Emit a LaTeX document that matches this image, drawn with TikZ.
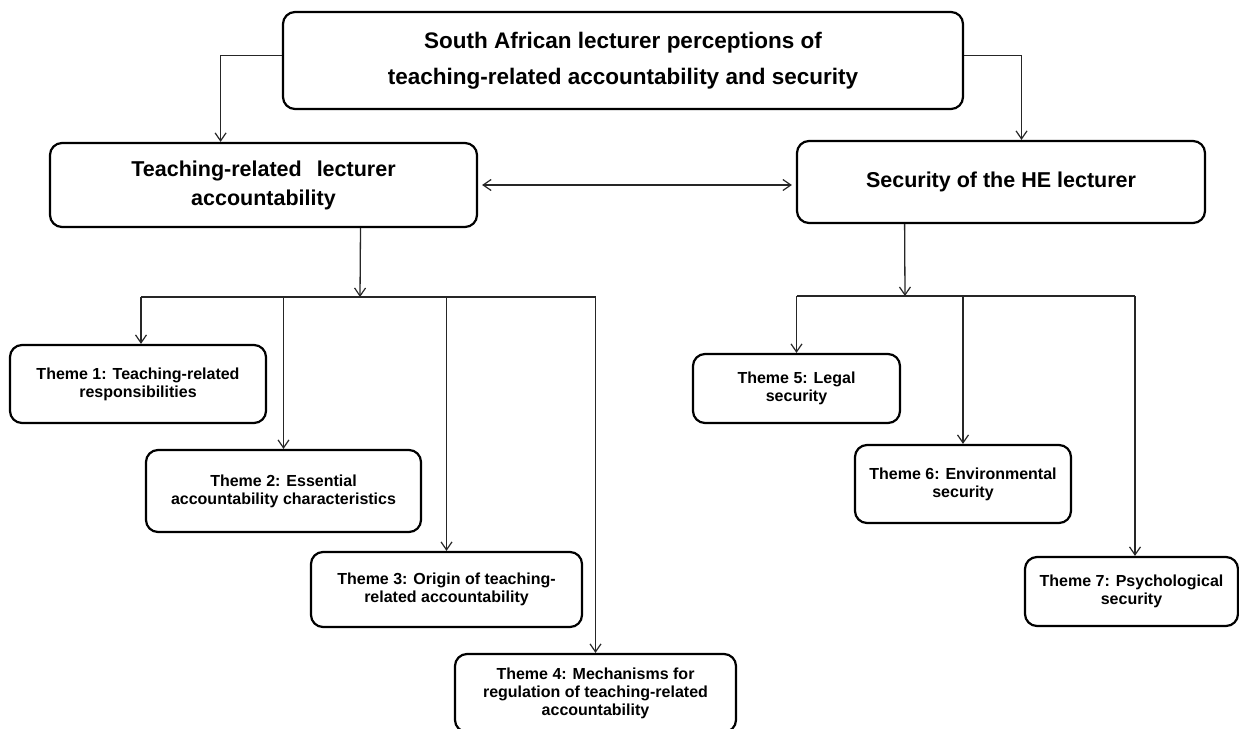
\documentclass[tikz,border=0pt]{standalone}
\usepackage{fontspec}
\setmainfont{Liberation Sans}
\usetikzlibrary{arrows.meta,calc}
\begin{document}
\begin{tikzpicture}[x=1pt,y=1pt,
  box/.style={draw=black, line width=2.2pt, rounded corners=12pt, align=center, inner sep=0pt, fill=white},
  titlebox/.style={box, font=\bfseries\fontsize{22.5}{36}\selectfont},
  mainbox/.style={box, font=\bfseries\fontsize{21.5}{29}\selectfont},
  themebox/.style={box, font=\bfseries\fontsize{16}{18}\selectfont},
  conn/.style={line width=1.3pt, draw=black!85},
  arr/.style={conn, -{Straight Barb[length=8pt,width=11pt,line width=1.2pt]}},
  darr/.style={conn, {Straight Barb[length=8pt,width=11pt,line width=1.2pt]}-{Straight Barb[length=8pt,width=11pt,line width=1.2pt]}}
]
\useasboundingbox (0,0) rectangle (1239,-728);
% top
\node[titlebox, minimum width=680pt, minimum height=97pt] (top) at (623,-60.5)
  {South African lecturer perceptions of\\teaching-related accountability and security};
% level 1
\node[mainbox, minimum width=427pt, minimum height=84pt] (L) at (263.5,-185)
  {Teaching-related\hspace{9pt} lecturer\\accountability};
\node[mainbox, minimum width=408pt, minimum height=82pt] (R) at (1001,-182)
  {Security of the HE lecturer};
% themes
\node[themebox, minimum width=256pt, minimum height=78pt] (t1) at (138,-384) {Theme 1: Teaching-related\\responsibilities};
\node[themebox, minimum width=275pt, minimum height=82pt] (t2) at (283.5,-491) {Theme 2: Essential\\accountability characteristics};
\node[themebox, minimum width=271pt, minimum height=75pt] (t3) at (446.5,-589.5) {Theme 3: Origin of teaching-\\related accountability};
\node[themebox, minimum width=281pt, minimum height=78pt] (t4) at (595.5,-693) {Theme 4: Mechanisms for\\regulation of teaching-related\\accountability};
\node[themebox, minimum width=207pt, minimum height=69pt] (t5) at (796.5,-388.5) {Theme 5: Legal\\security};
\node[themebox, minimum width=216pt, minimum height=78pt] (t6) at (963,-484) {Theme 6: Environmental\\security};
\node[themebox, minimum width=213pt, minimum height=69pt] (t7) at (1131.5,-591.5) {Theme 7: Psychological\\security};
% top connectors
\coordinate (tl) at ($(top.north west)!0.45!(top.south west)$);
\coordinate (tr) at ($(top.north east)!0.45!(top.south east)$);
\draw[arr] (tl) -| ($(L.north west)!0.40!(L.north east)$);
\draw[arr] (tr) -| ($(R.north west)!0.55!(R.north east)$);
% double arrow
\draw[darr] ([xshift=4pt]L.east |- 0,-185) -- ([xshift=-4pt]R.west |- 0,-185);
% left tree
\coordinate (lb) at (360,-297);
\coordinate (l1) at (141,-297);
\draw[arr] ($(L.south west)!0.726!(L.south east)$) -- (lb);
\draw[conn] (l1) -- (t4.north |- lb);
\draw[arr] (l1) -- (l1 |- t1.north);
\foreach \t in {t2,t3,t4} \draw[arr] (\t.north |- lb) -- (\t.north);
% right tree
\coordinate (rb) at (905,-296);
\draw[arr] ($(R.south west)!0.265!(R.south east)$) -- (rb);
\coordinate (r7) at (1135,-296);
\draw[conn] (t5.north |- rb) -- (r7);
\draw[arr] (t5.north |- rb) -- (t5.north);
\draw[arr] (t6.north |- rb) -- (t6.north);
\draw[arr] (r7) -- (r7 |- t7.north);
\end{tikzpicture}
\end{document}
